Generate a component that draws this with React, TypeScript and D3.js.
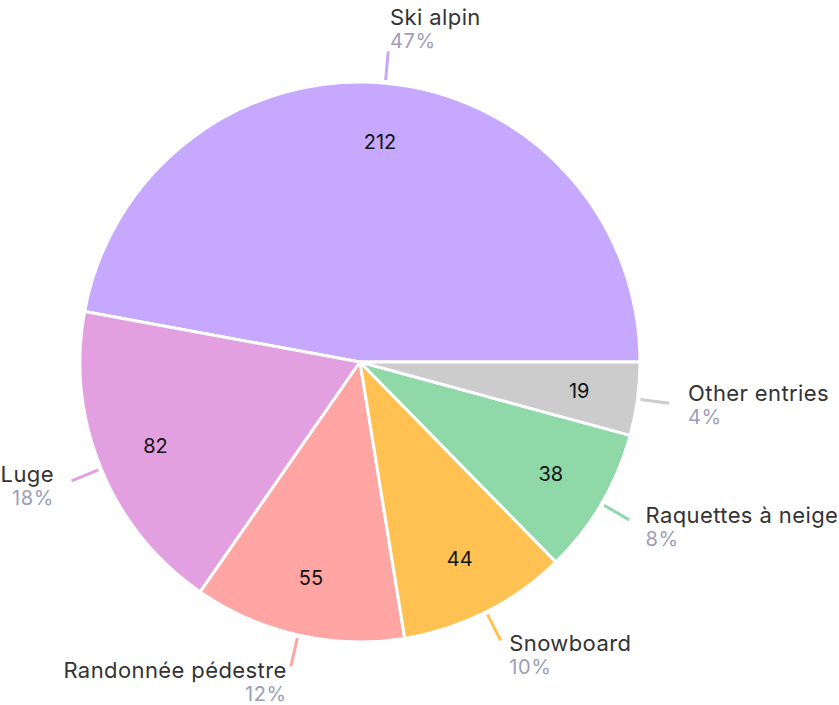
import React from "react";
import * as d3 from "d3";

const categories = ["Ski alpin", "Luge", "Randonnée pédestre", "Snowboard", "Raquettes à neige", "Other entries"];
const values = [212, 82, 55, 44, 38, 19];
const percents = ["47%", "18%", "12%", "10%", "8%", "4%"];
const colors = ["#c6a9ff", "#e3a0e0", "#ffa5a3", "#ffc152", "#8fd9a9", "#cccccc"];

const W = 839;
const H = 705;
const cx = 360;
const cy = 362;
const R = 280;
const FONT = "Inter, 'Noto Sans', sans-serif";

export default function App() {
  const pie = d3
    .pie<number>()
    .sort(null)
    .startAngle(Math.PI / 2)
    .endAngle(Math.PI / 2 - 2 * Math.PI);
  const arcs = pie(values);
  const arc = d3.arc<d3.PieArcDatum<number>>().innerRadius(0).outerRadius(R);
  const valueArc = d3.arc<d3.PieArcDatum<number>>().innerRadius(R * 0.79).outerRadius(R * 0.79);

  return (
    <svg width={W} height={H} style={{ position: "absolute", left: 0, top: 0 }}>
      <g transform={`translate(${cx},${cy})`}>
        {arcs.map((a, i) => (
          <path key={"s" + i} d={arc(a) || ""} fill={colors[i]} stroke="#fff" strokeWidth={3} strokeLinejoin="round" />
        ))}
        {arcs.map((a, i) => {
          const [x, y] = valueArc.centroid(a);
          return (
            <text key={"v" + i} x={x} y={y} textAnchor="middle" dominantBaseline="central" fontFamily={FONT} fontSize={20} fill="#111">
              {values[i]}
            </text>
          );
        })}
        {arcs.map((a, i) => {
          const mid = (a.startAngle + a.endAngle) / 2;
          const sx = Math.sin(mid);
          const sy = -Math.cos(mid);
          const r1 = R + 3;
          const r2 = R + 32;
          const ex = sx * r2;
          const ey = sy * r2;
          const anchor = sx >= 0 ? "start" : "end";
          const tx = ex + 19 * sx;
          const blockH = 44;
          const off = sy < 0 ? sy * 21 : sy * 17;
          const cyBlock = ey + off;
          const top = cyBlock - blockH / 2;
          return (
            <g key={"l" + i}>
              <line x1={sx * r1} y1={sy * r1} x2={ex} y2={ey} stroke={colors[i]} strokeWidth={3} />
              <text x={tx} y={top + 17} textAnchor={anchor} fontFamily={FONT} fontSize={22} letterSpacing={0.4} fill="#333">
                {categories[i]}
              </text>
              <text x={tx} y={top + 40} textAnchor={anchor} fontFamily={FONT} fontSize={20} letterSpacing={0.6} fill="#9d9db8">
                {percents[i]}
              </text>
            </g>
          );
        })}
      </g>
    </svg>
  );
}
